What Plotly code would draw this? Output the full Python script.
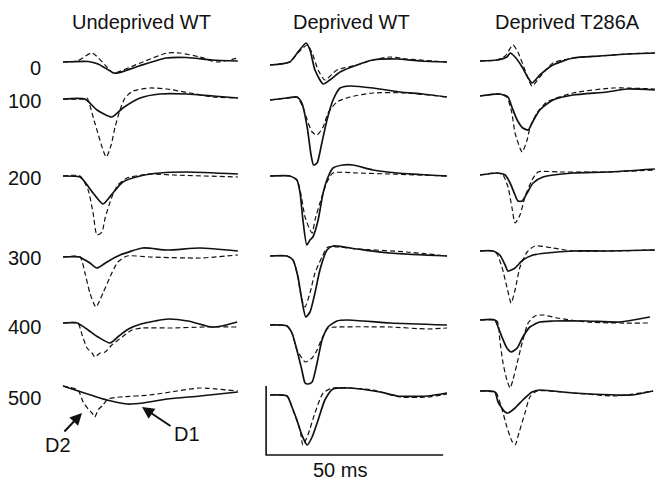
import plotly.graph_objects as go

# ---------------- data ----------------
COLUMNS = ["Undeprived WT", "Deprived WT", "Deprived T286A"]
DEPTHS = ["0", "100", "200", "300", "400", "500"]
SCALE_MS = 50          # horizontal scale bar (ms)
SCALE_AMP = 69         # vertical scale bar (amplitude units)

# Undeprived WT  (t in ms, v = amplitude; s = solid trace, d = dashed trace)
u0_s_t = [0, 7.1, 9.9, 14.4, 15.5, 21.5, 29.1, 35.0, 42.1, 49.4]
u0_s_v = [0, 0.5, -2, -11, -11, -4, 4, 4.5, 2, 1]
u0_d_t = [0, 4, 8.2, 12.4, 14.1, 21.8, 29.4, 33, 38.7, 43.5, 49.4]
u0_d_v = [0, 1, 9, -5, -11, -1, 9, 9, 5, 0, 4]
u1_s_t = [0, 6.2, 9.6, 13.8, 16.9, 21.8, 27.4, 35, 42.4, 49.4]
u1_s_v = [0, 0, -11, -18, -9, 1, 5, 5, 3, 1]
u1_d_t = [0, 6.2, 6.8, 9, 12.2, 13.6, 14.7, 16.1, 17.5, 19.8, 24.6, 29.4, 35.9, 42.4, 49.4]
u1_d_v = [0, 0, 1, -24, -58, -46, -28, -11, 1, 8, 11, 10, 6, 2, 1]
u2_s_t = [0, 4.8, 6.2, 8.5, 11.3, 14.1, 16.9, 21.8, 27.4, 35, 49.4]
u2_s_v = [0, -1, -6, -17, -28, -17, -6, 0, 3, 4, 2]
u2_d_t = [0, 4.8, 7.1, 8.5, 9.6, 11, 11.9, 13.8, 15.5, 18.1, 24.6, 31.1, 49.4]
u2_d_v = [0, 0, -14, -37, -59, -56, -42, -21, -9, -2, 2, 1, -1]
u3_s_t = [0, 4.8, 5.7, 7.6, 9.6, 12.4, 16.1, 22.6, 29.4, 38.7, 49.4]
u3_s_v = [0, 0, -2, -6, -11, -5, 2, 9, 7, 9, 6]
u3_d_t = [0, 4.8, 6.2, 7.6, 9.3, 11.3, 13.8, 15.5, 18.1, 24.6, 38.7, 49.4]
u3_d_v = [0, 0, -16, -36, -50, -36, -16, -5, 1, 0, -1, 2]
u4_s_t = [0, 4, 7.1, 9.9, 13.3, 15.8, 18.5, 22, 26, 29.7, 35.3, 42, 44.9, 49.2]
u4_s_v = [0, 0, -7, -14, -20, -13, -6, -1, 2, 4, 2, -4, -3, 1]
u4_d_t = [0, 4.2, 5.4, 6.8, 8.2, 9, 10.5, 11.9, 13.8, 16.7, 19.5, 22.3, 30.8, 40.1, 49.2]
u4_d_v = [0, 0, -12, -25, -30, -34, -30, -29, -22, -14, -7, -5, -5, -4, -4]
u5_s_t = [0, 12.4, 18.1, 22.6, 29.4, 38.7, 49.4]
u5_s_v = [0, -14, -18, -17, -13, -10, -6]
u5_d_t = [0, 4.2, 5.7, 7.1, 8.2, 9, 9.9, 11.3, 12.7, 16.1, 24.6, 32.2, 38.7, 49.4]
u5_d_v = [0, -4, -16, -23, -27, -31, -24, -19, -13, -11, -9, -5, -2, -5]

# Deprived WT
d0_s_t = [0, 5.6, 7.9, 10.2, 11.3, 12.7, 15, 16.9, 19.8, 24.6, 29.1, 35.9, 42.4, 50]
d0_s_v = [0, 3, 13, 22, 15, -5, -19, -15, -7, 0, 5, 6, 4, 3]
d0_d_t = [0, 5.6, 7.9, 10.5, 11.9, 13.6, 15.5, 18.9, 24.6, 29.1, 33.9, 38.7, 50]
d0_d_v = [0, 3, 12, 20, 12, -5, -15, -5, 0, 5, 8, 6, 3]
d1_s_t = [0, 4.8, 7.6, 9, 10.5, 11.6, 12.3, 13.3, 14.7, 16.1, 17.8, 19.8, 22.6, 29.1, 36.7, 43.2, 50]
d1_s_v = [0, 2, 3, -3, -27, -55, -65, -63, -42, -20, 0, 12, 14, 12, 8, 6, 3]
d1_d_t = [0, 4.8, 7.6, 9.3, 10.5, 11.9, 13.3, 15, 16.4, 18.9, 22.6, 29.1, 38.7, 50]
d1_d_v = [0, 2, 3, -7, -20, -32, -35, -27, -13, -2, 3, 7, 7, 3]
d2_s_t = [0, 5.6, 7.6, 8.5, 9.3, 10.4, 11.3, 12.1, 13.6, 15, 16.4, 17.8, 20.6, 23.4, 29.1, 35.9, 50]
d2_s_v = [0, 0, -4, -17, -44, -69, -64, -61, -44, -17, -1, 8, 11, 11, 6, 3, 0]
d2_d_t = [0, 5.6, 7.6, 8.5, 9.9, 11.3, 11.9, 12.7, 14.1, 16.1, 17.8, 24.6, 33.9, 50]
d2_d_v = [0, 0, -4, -14, -41, -54, -57, -44, -27, -6, 3, 3, 2, 0]
d3_s_t = [0, 4.8, 6.5, 7.9, 9, 10.1, 11.3, 12.7, 14.1, 16.1, 17.8, 24.6, 33.9, 50]
d3_s_v = [0, 0, -4, -21, -44, -61, -56, -37, -14, 6, 10, 7, 3, 0]
d3_d_t = [0, 4.8, 6.5, 7.9, 8.5, 9.3, 9.9, 11.3, 12.7, 14.7, 16.4, 24.6, 38.7, 50]
d3_d_v = [0, 0, -4, -21, -35, -47, -51, -37, -17, -1, 9, 7, 4, 0]
d4_s_t = [0, 4.8, 6.2, 7.6, 9, 9.9, 10.7, 11.9, 13.3, 14.7, 16.4, 18.9, 21.8, 33.9, 50]
d4_s_v = [0, -1, -8, -25, -45, -58, -59, -57, -38, -15, -2, 4, 5, 2, 0]
d4_d_t = [0, 4.8, 6.2, 7.6, 9, 9.9, 11.9, 13.3, 14.7, 16.4, 18.9, 33.9, 44.4, 50]
d4_d_v = [0, -1, -8, -25, -33, -37, -33, -25, -13, -3, -2, -2, -4, -3]
d5_s_t = [0, 4.8, 6.2, 7.6, 9, 10.5, 11.9, 13.6, 15.5, 17.8, 22.6, 31.1, 35.9, 44.4, 50]
d5_s_v = [0, -1, -12, -25, -40, -50, -42, -25, -5, 6, 7, 3, -1, -1, 2]
d5_d_t = [0, 4.8, 6.5, 8.5, 9.3, 10.7, 12.7, 15, 17.8, 29.1, 36.7, 44.4, 50]
d5_d_v = [0, -1, -15, -35, -50, -40, -18, 2, 7, 5, -2, -2, 1]

# Deprived T286A
t0_s_t = [0, 4.8, 7.6, 8.5, 9.9, 11.9, 13.6, 14.7, 16.9, 20.6, 26.3, 33.9, 41.5, 49.4]
t0_s_v = [0, 1, 4, 8, 4, -6, -17, -22, -14, -4, 3, 5, 7, 8]
t0_d_t = [0, 4.8, 7.1, 9.3, 10.7, 12.7, 14.7, 16.9, 20.6, 26.3, 33.9, 41.5, 49.4]
t0_d_v = [0, 1, 5, 16, 9, -9, -25, -16, -2, 3, 5, 7, 8]
t1_s_t = [0, 5.6, 7.9, 9, 10.5, 12.1, 13.6, 14.7, 16.9, 20.6, 26.3, 35.9, 41.5, 49.4]
t1_s_v = [0, 2, -1, -11, -24, -32, -34, -27, -14, -4, 1, 4, 7, 6]
t1_d_t = [0, 5.6, 7.6, 9, 9.9, 11.9, 13.3, 14.1, 16.1, 18.9, 26.3, 37.6, 49.4]
t1_d_v = [0, 2, -1, -17, -37, -56, -44, -32, -17, -6, 3, 8, 7]
t2_s_t = [0, 4.8, 7.1, 8.5, 9.9, 10.7, 11.9, 13.3, 15, 17.8, 26.3, 35.9, 49.4]
t2_s_v = [0, 2, 0, -8, -20, -26, -26, -18, -8, -2, 2, 3, 6]
t2_d_t = [0, 4.8, 6.5, 7.9, 9, 9.9, 11.3, 12.7, 14.7, 16.4, 22.6, 35.9, 49.4]
t2_d_v = [0, 2, 0, -12, -32, -48, -40, -22, -5, 3, 3, 3, 5]
t3_s_t = [0, 3.7, 5.6, 7.1, 7.9, 9.9, 12.1, 15, 18.9, 26.3, 35.9, 49.4]
t3_s_v = [0, 0, -4, -14, -20, -17, -9, -4, -2, 0, 0, 1]
t3_d_t = [0, 3.7, 4.8, 6.2, 7.6, 8.8, 9.9, 11.3, 13.3, 15.5, 20.6, 26.3, 49.4]
t3_d_v = [0, 0, -3, -16, -36, -52, -39, -16, -1, 5, 3, 0, 1]
t4_s_t = [0, 4.2, 5.1, 6.2, 7.6, 8.8, 10.5, 12.1, 14.1, 16.9, 20.6, 30.2, 39.5, 48]
t4_s_v = [0, 0, -7, -17, -28, -32, -28, -17, -7, -2, -1, -1, -2, 3]
t4_d_t = [0, 4.8, 5.6, 6.5, 7.6, 8.5, 9.3, 10.5, 11.9, 13.6, 15.5, 17.8, 21.8, 30.2, 39.5, 48]
t4_d_v = [0, -1, -20, -43, -60, -68, -60, -43, -23, -3, 4, 5, 2, -2, -3, -3]
t5_s_t = [0, 4.2, 5.1, 7.1, 7.9, 9.9, 12.1, 14.7, 16.9, 26.3, 38.7, 43.2, 48.9]
t5_s_v = [0, -1, -11, -21, -22, -17, -9, -1, 1, -2, -4, -4, 0]
t5_d_t = [0, 4.2, 4.8, 6.2, 7.6, 9, 9.9, 11, 12.7, 14.1, 16.1, 26.3, 38.7, 48.9]
t5_d_v = [0, -1, -3, -18, -36, -50, -54, -42, -22, -6, 0, -2, -5, 0]

PANELS = [
    [(u0_s_t, u0_s_v, u0_d_t, u0_d_v), (u1_s_t, u1_s_v, u1_d_t, u1_d_v),
     (u2_s_t, u2_s_v, u2_d_t, u2_d_v), (u3_s_t, u3_s_v, u3_d_t, u3_d_v),
     (u4_s_t, u4_s_v, u4_d_t, u4_d_v), (u5_s_t, u5_s_v, u5_d_t, u5_d_v)],
    [(d0_s_t, d0_s_v, d0_d_t, d0_d_v), (d1_s_t, d1_s_v, d1_d_t, d1_d_v),
     (d2_s_t, d2_s_v, d2_d_t, d2_d_v), (d3_s_t, d3_s_v, d3_d_t, d3_d_v),
     (d4_s_t, d4_s_v, d4_d_t, d4_d_v), (d5_s_t, d5_s_v, d5_d_t, d5_d_v)],
    [(t0_s_t, t0_s_v, t0_d_t, t0_d_v), (t1_s_t, t1_s_v, t1_d_t, t1_d_v),
     (t2_s_t, t2_s_v, t2_d_t, t2_d_v), (t3_s_t, t3_s_v, t3_d_t, t3_d_v),
     (t4_s_t, t4_s_v, t4_d_t, t4_d_v), (t5_s_t, t5_s_v, t5_d_t, t5_d_v)],
]

# ---------------- layout constants ----------------
W, H = 665, 483
FONT = "Liberation Sans, Arial, Helvetica, sans-serif"
XRANGE = [-3, 52]
PX_PER_MS = 3.54
COL_START_PX = [63, 270, 480]                 # pixel where t = 0 lies
BASE_PX = [[62, 99, 176, 257, 323, 386],       # baseline (pixel rows) per column / depth
           [65, 100, 176, 256, 325, 395],
           [61, 96, 175, 251, 320, 391]]
LABEL_Y_PX = [68, 101, 178, 258, 327, 398]
HEADER_X_PX = [141, 351, 567]

fig = go.Figure()
axis_names = ["x", "x2", "x3"]
for c, col in enumerate(PANELS):
    for r, (st, sv, dt, dv) in enumerate(col):
        b = -BASE_PX[c][r]
        fig.add_trace(go.Scatter(
            x=dt, y=[b + v for v in dv], xaxis=axis_names[c], yaxis="y",
            mode="lines", line=dict(color="#111", width=1.2, dash="5px,3px",
                                    shape="spline", smoothing=0.6),
            hoverinfo="skip", showlegend=False))
        fig.add_trace(go.Scatter(
            x=st, y=[b + v for v in sv], xaxis=axis_names[c], yaxis="y",
            mode="lines", line=dict(color="#111", width=1.7,
                                    shape="spline", smoothing=0.6),
            hoverinfo="skip", showlegend=False))

# scale bar in the Deprived WT column
bar_x0 = -1.1
bar_y0 = -455
fig.add_trace(go.Scatter(
    x=[bar_x0, bar_x0, bar_x0 + SCALE_MS],
    y=[bar_y0 + SCALE_AMP, bar_y0, bar_y0],
    xaxis="x2", yaxis="y", mode="lines",
    line=dict(color="#111", width=1.6), hoverinfo="skip", showlegend=False))

layout_axes = {}
for c, name in enumerate(["xaxis", "xaxis2", "xaxis3"]):
    d0 = (COL_START_PX[c] + XRANGE[0] * PX_PER_MS) / W
    d1 = (COL_START_PX[c] + XRANGE[1] * PX_PER_MS) / W
    layout_axes[name] = dict(domain=[d0, min(d1, 1.0)], range=XRANGE, visible=False,
                             anchor="y", fixedrange=True)

annotations = []
for c, name in enumerate(COLUMNS):
    annotations.append(dict(text=name, x=HEADER_X_PX[c] / W, y=1 - 22 / H,
                            xref="paper", yref="paper", showarrow=False,
                            xanchor="center", yanchor="middle",
                            font=dict(family=FONT, size=20, color="#111")))
for r, lab in enumerate(DEPTHS):
    annotations.append(dict(text=lab, x=43 / W, y=1 - LABEL_Y_PX[r] / H,
                            xref="paper", yref="paper", showarrow=False,
                            xanchor="right", yanchor="middle",
                            font=dict(family=FONT, size=20, color="#111")))
annotations.append(dict(text="50 ms", x=340 / W, y=1 - 470 / H, xref="paper", yref="paper",
                        showarrow=False, xanchor="center", yanchor="middle",
                        font=dict(family=FONT, size=20, color="#111")))
annotations.append(dict(text="D2", x=58 / W, y=1 - 445 / H, xref="paper", yref="paper",
                        showarrow=False, xanchor="center", yanchor="middle",
                        font=dict(family=FONT, size=20, color="#111")))
annotations.append(dict(text="D1", x=187 / W, y=1 - 434 / H, xref="paper", yref="paper",
                        showarrow=False, xanchor="center", yanchor="middle",
                        font=dict(family=FONT, size=20, color="#111")))
# arrows
annotations.append(dict(text="", x=(82 - 63) / PX_PER_MS, y=-413, xref="x", yref="y",
                        ax=-19, ay=20, showarrow=True, arrowhead=2, arrowsize=1.2,
                        arrowwidth=2, arrowcolor="#111"))
annotations.append(dict(text="", x=(142 - 63) / PX_PER_MS, y=-407, xref="x", yref="y",
                        ax=30, ay=20, showarrow=True, arrowhead=2, arrowsize=1.2,
                        arrowwidth=2, arrowcolor="#111"))

fig.update_layout(
    width=W, height=H, margin=dict(l=0, r=0, t=0, b=0),
    paper_bgcolor="white", plot_bgcolor="white",
    yaxis=dict(domain=[0, 1], range=[-H, 0], visible=False, anchor="x", fixedrange=True),
    annotations=annotations, showlegend=False,
    **layout_axes,
)

fig.write_html("out.html", config={"displayModeBar": False})
